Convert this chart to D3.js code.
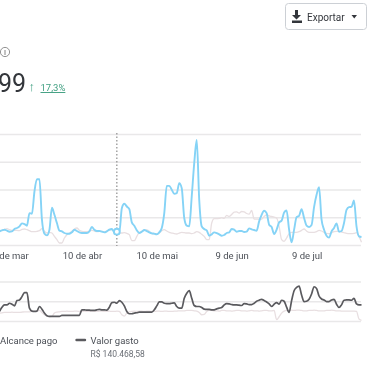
<!DOCTYPE html>
<html>
<head>
<meta charset="utf-8">
<script src="https://cdn.jsdelivr.net/npm/d3@7"></script>
<style>
    html, body { margin: 0; padding: 0; background: #fff; overflow: hidden; }
    svg { display: block; filter: blur(0.35px); }
    text { font-family: Roboto, sans-serif; fill: #4b4f56; }
    .grid .domain { display: none; }
    .grid line { stroke: #e9e8e9; stroke-width: 1.5; }
    .x-axis .domain, .x-axis line { display: none; }
    .x-axis text { font-size: 9.5px; font-family: Roboto, sans-serif; fill: #4b4f56; }
</style>
</head>
<body>
<script>
// Daily values, starting on 8 Mar
const startDate = new Date(2023, 2, 8);

const impressions = [
    12.3, 13.2, 13.8, 12.9, 12, 12.3, 14.4, 15.3, 16.8, 19.5, 18.9, 17.4, 28.7, 28.1, 48.2, 59.3, 59.3, 22.8, 10.2, 8.7,
    13.8, 33.5, 27.2, 19.8, 12.9, 12.3, 10.8, 10.2, 10.2, 11.4, 13.8, 12.6, 11.4, 10.8, 10.8, 10.8, 12.3, 16.2, 13.8, 12.6,
    12.6, 12, 11.4, 12.3, 13.8, 14.4, 11.4, 12, 11.4, 33.2, 37.1, 34.7, 32.3, 20.4, 17.4, 13.2, 10.8, 12, 13.5, 12.6,
    11.4, 10.5, 10.2, 9.6, 11.4, 15.3, 28.7, 53.3, 53.3, 49.7, 46.1, 46.7, 55.7, 51.2, 24.3, 17.4, 16.8, 43.7, 73.7, 94.6,
    40.7, 16.8, 14.4, 13.2, 8.4, 9.6, 11.4, 10.8, 9.6, 8.4, 9, 10.8, 11.4, 14.4, 13.8, 12, 12.6, 12.6, 11.7, 12,
    15, 14.1, 13.5, 12.9, 21.3, 27.2, 30.8, 28.7, 18.3, 16.2, 9.9, 13.8, 20.4, 21.9, 29.3, 31.1, 13.8, 2.4, 13.8, 25.1,
    26.3, 32.3, 24.3, 17.4, 16.2, 18, 34.1, 45.2, 52.1, 22.8, 13.8, 8.4, 6.6, 12.3, 15.3, 19.5, 12, 12.6, 19.8, 31.7,
    34.1, 34.4, 40.1, 16.8, 7.8, 7.2
];

const impressionsPrev = [
    12.9, 13.2, 14.1, 14.7, 13.8, 13.2, 13.2, 13.2, 12.9, 14.1, 14.4, 13.8, 12.9, 12, 12, 12.3, 12.9, 14.7, 12.3, 10.8,
    11.4, 10.8, 7.8, 4.8, 1.8, 1.8, 6.3, 9.3, 10.8, 12.3, 14.4, 15.3, 13.2, 12.3, 12, 12, 12.6, 13.2, 12.6, 12,
    12.3, 12.3, 11.7, 12.6, 13.5, 13.8, 12.3, 11.4, 10.8, 10.8, 11.1, 10.5, 9.3, 3.9, 3.9, 7.8, 11.4, 12.3, 13.2, 13.5,
    12.3, 10.2, 9.9, 10.2, 10.8, 12.9, 13.8, 12.6, 11.4, 10.8, 10.2, 9.9, 10.8, 11.4, 11.1, 10.8, 10.8, 10.2, 10.8, 12,
    11.4, 9.6, 7.8, 4.8, 4.8, 19.8, 23.7, 23.7, 24, 24.6, 24, 26.6, 25.7, 27.5, 29.6, 29.9, 28.7, 30.2, 29.9, 28.4,
    27.8, 31.1, 23.4, 23.4, 23.1, 23.4, 25.7, 27.2, 26.3, 25.7, 25.1, 24.3, 16.8, 4.8, 3.3, 6.3, 10.2, 11.4, 11.4, 11.4,
    12, 13.2, 14.4, 12.6, 11.4, 11.4, 11.4, 12, 13.2, 12.6, 11.4, 10.5, 10.2, 11.1, 12, 12.3, 12.3, 11.7, 11.1, 10.5,
    10.2, 10.2, 10.5, 11.1, 7.8, 2.4
];

const spend = [
    24.2, 35, 40.8, 40.8, 45, 42.5, 38.3, 51.7, 53.3, 61.7, 71.7, 71.7, 32.5, 25, 24.2, 25, 36.7, 30, 20, 13.3,
    11.7, 11.7, 11.7, 11.7, 11.7, 14.2, 14.2, 14.2, 14.2, 14.2, 14.2, 14.2, 14.2, 28.3, 28.3, 27.5, 27.5, 26.7, 26.7, 28.3,
    29.2, 28.3, 28.3, 27.5, 35, 46.7, 47.5, 45, 51.7, 47.5, 38.3, 24.2, 18.3, 18.3, 20, 20.8, 22.5, 22.5, 22.5, 22.5,
    22.5, 22.5, 28.3, 38.3, 48.3, 48.3, 45, 44.2, 44.2, 45, 45.8, 36.7, 32.5, 32.5, 57.5, 70, 76.7, 57.5, 39.2, 36.7,
    36.7, 34.2, 30, 29.2, 29.2, 28.3, 28.3, 30.8, 32.5, 34.2, 40.8, 44.2, 43.3, 41.7, 40.8, 40.8, 40, 39.2, 44.2, 43.3,
    41.7, 41.7, 45, 50, 52.5, 55, 51.7, 48.3, 43.3, 36.7, 42.5, 46.7, 42.5, 52.5, 50, 35, 21.7, 51.7, 76.7, 85,
    88.3, 65.8, 49.2, 50, 55, 68.3, 86.7, 82.5, 63.3, 55.8, 53.3, 49.2, 49.2, 53.3, 55, 42.5, 34.2, 40.8, 52.5, 53.3,
    53.3, 52.5, 57.5, 43.3, 40.8, 40.8
];

const spendPrev = [
    20, 20.8, 21.7, 21.7, 21.7, 22.5, 21.7, 21.7, 21.7, 22.5, 23.3, 23.3, 23.3, 24.2, 24.2, 25, 26.7, 21.7, 15.8, 12.5,
    10.8, 11.7, 20, 22.5, 23.3, 24.2, 24.2, 25, 24.2, 24.2, 25, 25, 24.2, 24.2, 25, 24.2, 24.2, 25, 24.2, 24.2,
    25, 25, 24.2, 24.2, 25, 24.2, 24.2, 25, 24.2, 15.8, 12.5, 20, 23.3, 24.2, 25, 24.2, 25, 25, 24.2, 25,
    25, 24.2, 24.2, 25, 25, 24.2, 25, 25, 24.2, 24.2, 25, 25, 25.8, 25.8, 25.8, 26.7, 26.7, 26.7, 25.8, 25,
    21.7, 15.8, 16.7, 24.2, 26.7, 26.7, 25.8, 25.8, 25, 26.7, 26.7, 25.8, 25.8, 25, 25.8, 26.7, 26.7, 25.8, 25.8, 25,
    25.8, 26.7, 25.8, 25.8, 25, 25.8, 26.7, 26.7, 25.8, 25.8, 26.7, 3.3, 10.8, 20, 25, 26.7, 26.7, 27.5, 26.7, 27.5,
    27.5, 26.7, 25.8, 25.8, 26.7, 26.7, 27.5, 26.7, 25.8, 25.8, 25.8, 26.7, 26.7, 27.5, 26.7, 25.8, 25.8, 25, 25, 25,
    25, 25, 25, 24.2, 5, 1.7
];

const tickDates = [new Date(2023, 2, 11), new Date(2023, 3, 10), new Date(2023, 4, 10), new Date(2023, 5, 9), new Date(2023, 6, 9)];
const tickLabels = ['11 de mar', '10 de abr', '10 de mai', '9 de jun', '9 de jul'];
const topGrid = [0, 25, 50, 75, 100];
const bottomGrid = [0, 50, 100];
const hoverIndex = 47;

const headlineValue = '99';
const changeLabel = '17,3%';
const exportLabel = 'Exportar';
const legendLeft = 'Alcance pago';
const legendRight = 'Valor gasto';
const legendRightValue = 'R$ 140.468,58';

const width = 375;
const height = 366;
const colors = { blue: '#85d3f6', pink: '#e8dfe1', dark: '#5a5a5e', green: '#3f9f80' };

const svg = d3.select('body').append('svg')
    .attr('width', width)
    .attr('height', height);

const dateAt = i => d3.timeDay.offset(startDate, i);

const x = d3.scaleTime()
    .domain([dateAt(0), dateAt(145)])
    .range([-0.5, 361.5]);

const yTop = d3.scaleLinear().domain([0, 100]).range([245, 134]);
const yBottom = d3.scaleLinear().domain([0, 100]).range([321, 281.5]);

function drawGrid(scale, values) {
    svg.append('g')
        .attr('class', 'grid')
        .call(d3.axisLeft(scale).tickValues(values).tickSize(-361).tickFormat(''));
}

function drawLine(values, scale, color, strokeWidth) {
    const line = d3.line()
        .x((d, i) => x(dateAt(i)))
        .y(d => scale(d))
        .curve(d3.curveMonotoneX);

    svg.append('path')
        .datum(values)
        .attr('fill', 'none')
        .attr('stroke', color)
        .attr('stroke-width', strokeWidth)
        .attr('stroke-linejoin', 'round')
        .attr('d', line);
}

drawGrid(yTop, topGrid);
drawGrid(yBottom, bottomGrid);

// Date labels
svg.append('g')
    .attr('class', 'x-axis')
    .attr('transform', 'translate(0,249)')
    .call(d3.axisBottom(x)
        .tickValues(tickDates)
        .tickSize(0)
        .tickFormat((d, i) => tickLabels[i]));

drawLine(impressionsPrev, yTop, colors.pink, 1.3);
drawLine(impressions, yTop, colors.blue, 1.9);
drawLine(spendPrev, yBottom, colors.pink, 1.3);
drawLine(spend, yBottom, colors.dark, 1.7);

// Hover marker
const hoverX = x(dateAt(hoverIndex));
svg.append('line')
    .attr('x1', hoverX)
    .attr('x2', hoverX)
    .attr('y1', 133)
    .attr('y2', 246)
    .attr('stroke', '#8d8d8d')
    .attr('stroke-width', 1.2)
    .attr('stroke-dasharray', '1.5,2');

svg.append('circle')
    .attr('cx', hoverX)
    .attr('cy', yTop(impressions[hoverIndex]))
    .attr('r', 2.9)
    .attr('fill', '#fff')
    .attr('stroke', colors.blue)
    .attr('stroke-width', 1.9);

// Headline
svg.append('circle')
    .attr('cx', 5)
    .attr('cy', 52)
    .attr('r', 4.6)
    .attr('fill', 'none')
    .attr('stroke', '#777')
    .attr('stroke-width', 0.8);

svg.append('line')
    .attr('x1', 5)
    .attr('x2', 5)
    .attr('y1', 50)
    .attr('y2', 55)
    .attr('stroke', '#777')
    .attr('stroke-width', 0.9);

svg.append('text')
    .attr('x', -2)
    .attr('y', 92)
    .style('font-size', '25px')
    .style('fill', '#33363b')
    .text(headlineValue);

svg.append('text')
    .attr('x', 28.5)
    .attr('y', 90.5)
    .style('font-size', '13px')
    .style('font-weight', 500)
    .style('fill', colors.green)
    .text('↑');

svg.append('text')
    .attr('x', 40.5)
    .attr('y', 91)
    .style('font-size', '9.5px')
    .style('fill', colors.green)
    .style('text-decoration', 'underline dotted')
    .text(changeLabel);

// Export button
svg.append('rect')
    .attr('x', 285.5)
    .attr('y', 3.5)
    .attr('width', 81)
    .attr('height', 26)
    .attr('rx', 3)
    .attr('fill', '#fff')
    .attr('stroke', '#ccd0d5');

svg.append('path')
    .attr('d', 'M295 10h3v5h3l-4.5 4.5-4.5-4.5h3z M292 20.5h10v2.5h-10z')
    .attr('fill', '#33363b');

svg.append('text')
    .attr('x', 307)
    .attr('y', 20.5)
    .style('font-size', '10px')
    .style('fill', '#33363b')
    .text(exportLabel);

svg.append('path')
    .attr('d', 'M351.5 15h5.5l-2.75 3.5z')
    .attr('fill', '#33363b');

// Legend
svg.append('text')
    .attr('x', 0)
    .attr('y', 344)
    .style('font-size', '9.5px')
    .text(legendLeft);

svg.append('line')
    .attr('x1', 76.5)
    .attr('x2', 85)
    .attr('y1', 340)
    .attr('y2', 340)
    .attr('stroke', colors.dark)
    .attr('stroke-width', 2.4)
    .attr('stroke-linecap', 'round');

svg.append('text')
    .attr('x', 90.5)
    .attr('y', 344)
    .style('font-size', '9.5px')
    .text(legendRight);

svg.append('text')
    .attr('x', 90.5)
    .attr('y', 356.5)
    .style('font-size', '8.5px')
    .style('fill', '#6b6f76')
    .text(legendRightValue);
</script>
</body>
</html>
